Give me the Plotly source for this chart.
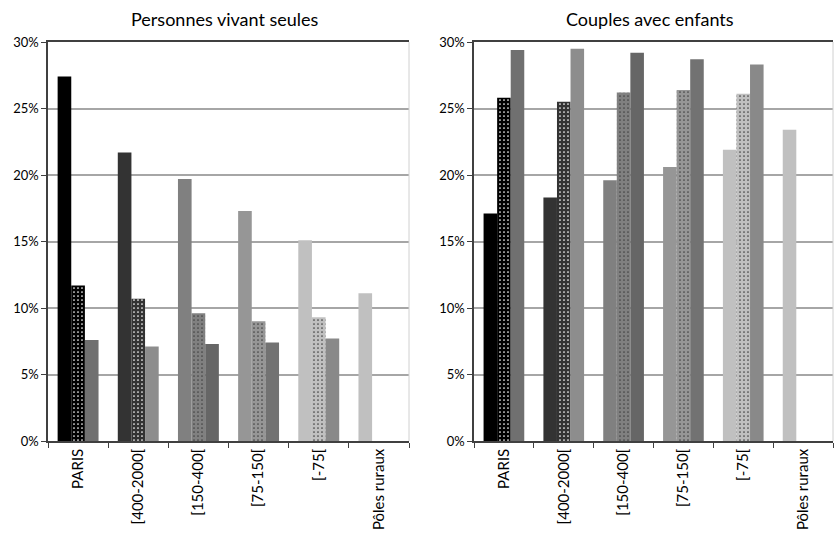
import plotly.graph_objects as go
from plotly.subplots import make_subplots

categories = ["PARIS", "[400-2000[", "[150-400[", "[75-150[", "[-75[", "Pôles ruraux"]
category_colors = ["#000000", "#333333", "#808080", "#969696", "#c0c0c0", "#c0c0c0"]

# Personnes vivant seules (%)
seules_s1 = [27.4, 21.7, 19.7, 17.3, 15.1, 11.1]
seules_s2 = [11.7, 10.7, 9.6, 9.0, 9.3, None]
seules_s3 = [7.6, 7.1, 7.3, 7.4, 7.7, None]

# Couples avec enfants (%)
couples_s1 = [17.1, 18.3, 19.6, 20.6, 21.9, 23.4]
couples_s2 = [25.8, 25.5, 26.2, 26.4, 26.1, None]
couples_s3 = [29.4, 29.5, 29.2, 28.7, 28.3, None]

titles = ["Personnes vivant seules", "Couples avec enfants"]
y_ticks = [0, 5, 10, 15, 20, 25, 30]
y_tick_labels = ["0%", "5%", "10%", "15%", "20%", "25%", "30%"]

FONT = "Lato"
WHITE = ["#ffffff"] * len(categories)

fig = make_subplots(rows=1, cols=2)

def add_panel(col, s1, s2, s3):
    fig.add_trace(go.Bar(
        x=categories, y=s1,
        marker=dict(color=category_colors, line=dict(width=0)),
        showlegend=False,
    ), row=1, col=col)
    fig.add_trace(go.Bar(
        x=categories, y=s2,
        marker=dict(color=category_colors, line=dict(width=0),
                    pattern=dict(shape=".", fillmode="overlay",
                                 bgcolor=category_colors, fgcolor=WHITE,
                                 fgopacity=1, size=4, solidity=0.15)),
        showlegend=False,
    ), row=1, col=col)
    fig.add_trace(go.Bar(
        x=categories, y=s3,
        marker=dict(color=category_colors, line=dict(width=0),
                    pattern=dict(shape=".", fillmode="overlay",
                                 bgcolor=category_colors, fgcolor=WHITE,
                                 fgopacity=1, size=2, solidity=0.5)),
        showlegend=False,
    ), row=1, col=col)

add_panel(1, seules_s1, seules_s2, seules_s3)
add_panel(2, couples_s1, couples_s2, couples_s3)

W, H = 834, 535
y0 = (535 - 441) / H
y1 = (535 - 42) / H
dom1 = [48 / W, 409 / W]
dom2 = [474 / W, 833 / W]

xtick_font = dict(family=FONT, size=15, color="#000000")
ytick_font = dict(family=FONT, size=13, color="#000000")
for i, dom in ((1, dom1), (2, dom2)):
    xa = "xaxis" if i == 1 else "xaxis2"
    ya = "yaxis" if i == 1 else "yaxis2"
    fig.layout[xa].update(
        domain=dom, type="category", tickangle=-90, automargin=False,
        ticks="outside", tickson="boundaries", ticklen=5, tickcolor="#404040",
        showline=True, linecolor="#404040", linewidth=1.5, mirror=True,
        showgrid=False, tickfont=xtick_font,
    )
    fig.layout[ya].update(
        domain=[y0, y1], range=[0, 30], tickvals=y_ticks, ticktext=y_tick_labels,
        automargin=False,
        ticks="outside", ticklen=5, tickcolor="#404040",
        showline=True, linecolor="#404040", linewidth=1.5,
        showgrid=True, gridcolor="#a6a6a6", gridwidth=1.5,
        zeroline=False, tickfont=ytick_font,
    )
    # right border of plot area
    fig.add_shape(type="line", xref="paper", yref="paper",
                  x0=dom[1], x1=dom[1], y0=y0, y1=y1,
                  line=dict(color="#d0d0d0", width=1))
    fig.add_annotation(
        text=titles[i - 1], xref="paper", yref="paper",
        x=(dom[0] + dom[1]) / 2 - 4 / W, y=(535 - 19) / H,
        xanchor="center", yanchor="middle", showarrow=False,
        font=dict(family=FONT, size=18, color="#000000"),
    )

fig.update_layout(
    width=W, height=H,
    margin=dict(l=0, r=0, t=0, b=0, autoexpand=False),
    paper_bgcolor="#ffffff", plot_bgcolor="#ffffff",
    barmode="group", bargap=0.32, bargroupgap=0,
    showlegend=False,
    font=dict(family=FONT),
)

fig.write_html(
    "out.html",
    config={"displayModeBar": False},
    post_script="document.body.style.margin='0';document.body.style.overflow='hidden';",
)
